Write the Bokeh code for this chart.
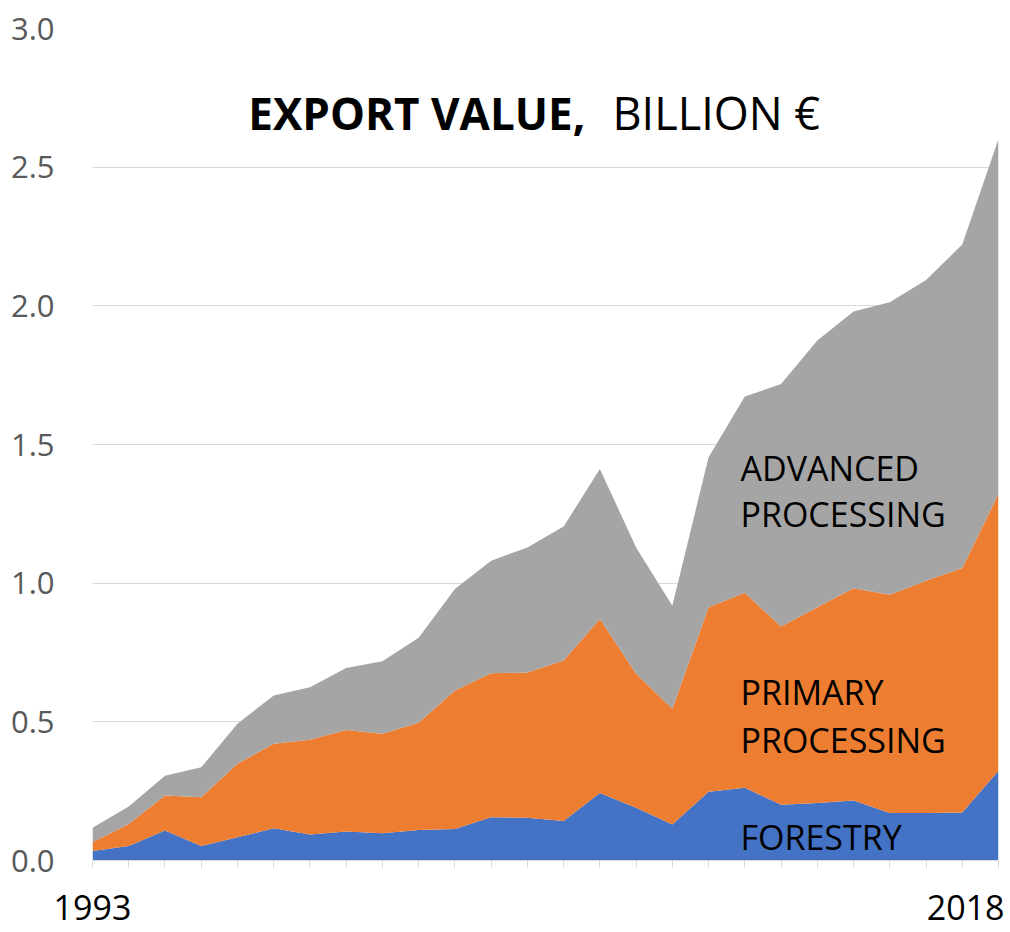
from bokeh.plotting import figure
from bokeh.models import ColumnDataSource, Range1d, FixedTicker, Label, LinearAxis
from bokeh.embed import file_html
from bokeh.resources import INLINE

years = list(range(1993, 2019))
forestry = [0.034, 0.052, 0.108, 0.052, 0.084, 0.116, 0.094, 0.105, 0.098, 0.110,
            0.114, 0.156, 0.154, 0.142, 0.243, 0.190, 0.130, 0.248, 0.262, 0.201,
            0.207, 0.216, 0.171, 0.171, 0.173, 0.324]
primary = [0.032, 0.080, 0.126, 0.176, 0.265, 0.305, 0.341, 0.366, 0.359, 0.387,
           0.499, 0.519, 0.524, 0.579, 0.628, 0.483, 0.417, 0.665, 0.703, 0.643,
           0.706, 0.766, 0.787, 0.838, 0.882, 0.998]
advanced = [0.052, 0.063, 0.072, 0.108, 0.144, 0.174, 0.190, 0.223, 0.261, 0.306,
            0.366, 0.406, 0.451, 0.483, 0.541, 0.456, 0.372, 0.541, 0.708, 0.874,
            0.962, 0.998, 1.055, 1.084, 1.166, 1.280]

series_names = ["forestry", "primary", "advanced"]
series_colors = ["#4472C4", "#ED7D31", "#A5A5A5"]
y_ticks = [0.0, 0.5, 1.0, 1.5, 2.0, 2.5, 3.0]
x_label_years = [1993, 2018]
x_label_texts = ["1993", "2018"]

title_bold = "EXPORT VALUE,"
title_regular = "BILLION €"
series_labels = [
    (["ADVANCED", "PROCESSING"], [1.417, 1.251]),
    (["PRIMARY", "PROCESSING"], [0.606, 0.433]),
    (["FORESTRY"], [0.083]),
]

source = ColumnDataSource(dict(year=years, forestry=forestry, primary=primary, advanced=advanced))

p = figure(width=1010, height=932, output_backend="svg", toolbar_location=None,
           x_range=Range1d(1993, 2018), y_range=Range1d(0, 3.0),
           min_border_left=92, min_border_right=12, min_border_top=28, min_border_bottom=72)
p.outline_line_color = None
p.background_fill_color = "white"
p.border_fill_color = "white"

p.varea_stack(stackers=series_names, x="year", color=series_colors, source=source)

# y axis
p.yaxis.ticker = FixedTicker(ticks=y_ticks)
p.yaxis.major_label_overrides = {t: f"{t:.1f}" for t in y_ticks}
p.yaxis.axis_line_color = None
p.yaxis.major_tick_line_color = None
p.yaxis.minor_tick_line_color = None
p.yaxis.major_label_text_font = "Open Sans"
p.yaxis.major_label_text_font_size = "31px"
p.yaxis.major_label_text_color = "#595959"
p.yaxis.major_label_standoff = 32

# x axis: tick marks at every year, no labels
p.xaxis.ticker = FixedTicker(ticks=years)
p.xaxis.axis_line_color = "#d9d9d9"
p.xaxis.major_tick_line_color = "#d9d9d9"
p.xaxis.major_tick_in = 0
p.xaxis.major_tick_out = 7
p.xaxis.minor_tick_line_color = None
p.xaxis.major_label_text_font_size = "0px"
p.xaxis.major_label_text_color = None
p.xaxis.major_label_standoff = 0

# second axis carrying only the first / last year labels
p.extra_x_ranges = {"labels": Range1d(1993, 2018.94)}
lab_axis = LinearAxis(x_range_name="labels", ticker=FixedTicker(ticks=x_label_years),
                      major_label_overrides=dict(zip(x_label_years, x_label_texts)))
lab_axis.axis_line_color = None
lab_axis.major_tick_line_color = None
lab_axis.minor_tick_line_color = None
lab_axis.major_label_text_font = "Open Sans"
lab_axis.major_label_text_font_size = "34px"
lab_axis.major_label_text_color = "black"
lab_axis.major_label_standoff = 21
p.add_layout(lab_axis, "below")

p.xgrid.grid_line_color = None
p.ygrid.ticker = FixedTicker(ticks=y_ticks)
p.ygrid.grid_line_color = "#d9d9d9"
p.ygrid.grid_line_width = 1

# title
p.add_layout(Label(x=1997.30, y=2.696, text=title_bold, text_font="Open Sans",
                   text_font_style="bold", text_font_size="44px", text_color="black",
                   text_baseline="alphabetic"))
p.add_layout(Label(x=2007.35, y=2.696, text=title_regular, text_font="Open Sans",
                   text_font_size="45px", text_color="black", text_baseline="alphabetic"))

# series labels
for lines, ys in series_labels:
    for txt, yy in zip(lines, ys):
        p.add_layout(Label(x=2010.88, y=yy, text=txt, text_font="Open Sans",
                           text_font_size="34px", text_color="black",
                           text_baseline="alphabetic"))

open("out.html", "w").write(file_html(p, INLINE))
